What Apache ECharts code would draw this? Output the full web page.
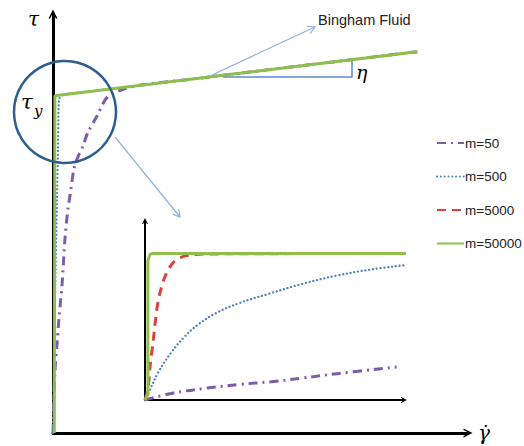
<!DOCTYPE html>
<html>
<head>
<meta charset="utf-8">
<script src="https://cdn.jsdelivr.net/npm/echarts@6/dist/echarts.min.js"></script>
<style>html,body{margin:0;padding:0;background:#fff}#c{width:524px;height:446px}</style>
</head>
<body>
<div id="c"></div>
<script>
// ---- data (normalized shear rate vs shear stress) ----
const seriesNames = ['m=50', 'm=500', 'm=5000', 'm=50000'];

// main panel
const main_m50 = [[0,0],[0.24,8.5],[0.48,14.8],[0.95,20.9],[1.43,27.2],[2.15,35.0],[2.86,46.0],[3.58,53.1],[4.06,56.1],[5.01,62.4],[5.97,65.3],[7.16,67.8],[8.35,71.1],[10.5,74.9],[12.9,79.3],[16.7,81.2],[20.8,82.2],[30,83.25],[45,85.06],[60,86.86],[75,88.67],[86.9,90.1]];
const main_m500 = [[0,0],[0.48,31.9],[0.95,55.4],[1.19,67.1],[1.31,76.5],[1.55,79.1],[2.6,80.0],[10,80.85],[20,82.05],[35,83.85],[50,85.66],[65,87.46],[86.9,90.1]];
const main_m50000 = [[0.3,0],[0.45,79.7],[86.9,90.1]];

// inset panel (zoom of the yield region)
const inset_m50 = [[0,0],[10,3.6],[23.5,6.5],[36,8.5],[48,10],[60,12],[73,14.4],[95.7,18.0]];
const inset_m500 = [[0,0],[2,6],[5,15],[10,26],[15,34.5],[20,41],[27,47.5],[36,53],[47,58],[60,63.5],[73,68],[86,71.3],[99.5,73.8]];
const inset_m5000 = [[0,0],[1.25,7.3],[1.9,18.2],[3.16,32.8],[4.45,49.2],[5.7,58.5],[7.6,67.4],[10.6,74.9],[14.4,78.3],[18.3,79.4],[23.6,79.8],[99.6,80.1]];
const inset_m50000 = [[0,0],[1.1,3],[1.1,76],[1.9,79.6],[3,80.1],[99.6,80.1]];

// ---- styles ----
const styles = {
  'm=50':    {color:'#7b5ea7', width:3,   type:[9,5,2,5], cap:'butt'},
  'm=500':   {color:'#4a7fc0', width:2.3, type:[0.01,3.8], cap:'round'},
  'm=5000':  {color:'#d8453c', width:3,   type:[9,6], cap:'butt'},
  'm=50000': {color:'#8dbf4a', width:3,   type:'solid', cap:'butt'}
};
const chevron = 'path://M0,10 L5,0 L10,10 L8.2,10 L5,3.6 L1.8,10 Z';

function mk(name, data, idx, smooth) {
  const s = styles[name];
  return {
    type:'line', name, data, xAxisIndex:idx, yAxisIndex:idx,
    symbol:'none', clip:false,
    smooth: smooth || false,
    lineStyle:{color:s.color, width:s.width, type:s.type, cap:s.cap},
    itemStyle:{color:s.color}
  };
}

function axisCommon(w) {
  return {
    type:'value', splitLine:{show:false}, axisTick:{show:false}, axisLabel:{show:false},
    axisLine:{show:true, onZero:false, symbol:['none', chevron], symbolSize:[w*3.4, w*3], lineStyle:{color:'#000', width:w}}
  };
}

const chart = echarts.init(document.getElementById('c'), null, {renderer:'svg'});
const serif = 'DejaVu Serif';
chart.setOption({
  animation:false,
  backgroundColor:'#fff',
  grid:[
    {left:53, right:56, top:14, bottom:10},
    {left:145, right:120, top:221, bottom:46}
  ],
  xAxis:[
    Object.assign(axisCommon(3), {gridIndex:0, min:0, max:99, name:'γ̇', nameLocation:'end', nameGap:10,
      nameTextStyle:{fontFamily:serif, fontStyle:'italic', fontSize:20, color:'#000', verticalAlign:'middle', lineHeight:20, padding:[0,0,6,0]}}),
    Object.assign(axisCommon(2), {gridIndex:1, min:0, max:98.5})
  ],
  yAxis:[
    Object.assign(axisCommon(3), {gridIndex:0, min:0, max:99, name:'τ', nameLocation:'end', nameGap:-5,
      nameTextStyle:{fontFamily:serif, fontStyle:'italic', fontSize:20, color:'#000', align:'right', verticalAlign:'middle', padding:[0,14,0,0]}}),
    Object.assign(axisCommon(2), {gridIndex:1, min:0, max:97.8})
  ],
  legend:{
    data:seriesNames, orient:'vertical', left:431, top:131, itemWidth:27, itemHeight:14, itemGap:19.5,
    itemStyle:{opacity:0},
    textStyle:{fontSize:13.5, color:'#222', fontFamily:'Liberation Sans', padding:[0,0,0,-4]}
  },
  series:[
    mk('m=50', main_m50, 0, 0.3),
    mk('m=500', main_m500, 0, 0.2),
    mk('m=50000', main_m50000, 0, 0),
    mk('m=50', inset_m50, 1, 0.4),
    mk('m=500', inset_m500, 1, 0.4),
    mk('m=5000', inset_m5000, 1, 0.3),
    mk('m=50000', inset_m50000, 1, 0)
  ],
  graphic:[
    {type:'circle', shape:{cx:65, cy:112, r:51}, style:{fill:'none', stroke:'#2d5d8e', lineWidth:2.5}, z:10},
    {type:'text', style:{text:'τ', x:21, y:91, fontFamily:serif, fontStyle:'italic', fontSize:21, fill:'#000'}, z:10},
    {type:'text', style:{text:'y', x:34, y:103, fontFamily:serif, fontStyle:'italic', fontSize:15, fill:'#000'}, z:10},
    // pointer from circle to inset
    {type:'line', shape:{x1:115, y1:137, x2:180, y2:217}, style:{stroke:'#8fb4dc', lineWidth:1.2}, z:10},
    {type:'polyline', shape:{points:[[178.7,209.1],[180,217],[172.5,214.1]]}, style:{stroke:'#8fb4dc', lineWidth:1.2, fill:'none'}, z:10},
    // pointer to Bingham label
    {type:'line', shape:{x1:212, y1:75, x2:315, y2:27}, style:{stroke:'#8fb4dc', lineWidth:1.2}, z:10},
    {type:'polyline', shape:{points:[[307,26.3],[315,27],[310.4,33.5]]}, style:{stroke:'#8fb4dc', lineWidth:1.2, fill:'none'}, z:10},
    {type:'text', style:{text:'Bingham Fluid', x:318, y:12, fontFamily:'Liberation Sans', fontSize:14.5, fill:'#222'}, z:10},
    // slope triangle
    {type:'polyline', shape:{points:[[223,77],[352,77],[352,60]]}, style:{stroke:'#5b8bd0', lineWidth:1.5, fill:'none'}, z:1},
    {type:'text', style:{text:'η', x:356, y:62, fontFamily:serif, fontStyle:'italic', fontSize:19, fill:'#000'}, z:10}
  ]
});
</script>
</body>
</html>
